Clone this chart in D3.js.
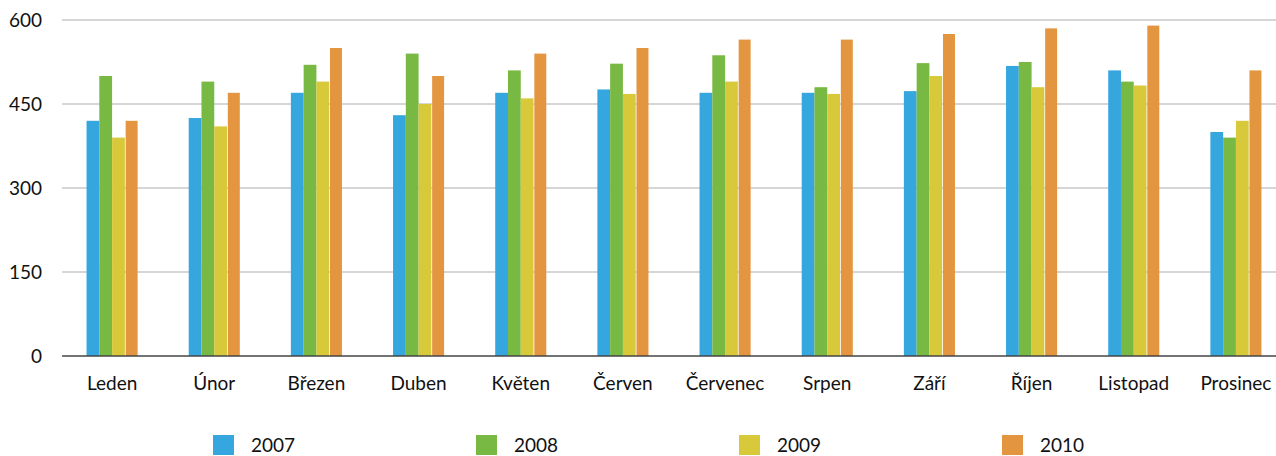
<!DOCTYPE html>
<html>
<head>
<meta charset="utf-8">
<script src="https://cdn.jsdelivr.net/npm/d3@7"></script>
<style>
  body { margin: 0; background: #fff; }
  svg text { font-family: Lato, "Open Sans", sans-serif; fill: #111; }
</style>
</head>
<body>
<svg id="chart" width="1276" height="456"></svg>
<script>
const months = ['Leden', 'Únor', 'Březen', 'Duben', 'Květen', 'Červen',
                'Červenec', 'Srpen', 'Září', 'Říjen', 'Listopad', 'Prosinec'];
const years = ['2007', '2008', '2009', '2010'];
const yTicks = [0, 150, 300, 450, 600];

const v2007 = [420, 425, 470, 430, 470, 476, 470, 470, 473, 518, 510, 400];
const v2008 = [500, 490, 520, 540, 510, 522, 537, 480, 523, 525, 490, 390];
const v2009 = [390, 410, 490, 450, 460, 468, 490, 468, 500, 480, 483, 420];
const v2010 = [420, 470, 550, 500, 540, 550, 565, 565, 575, 585, 590, 510];
const colors = ['#36a7de', '#78b944', '#d8c93b', '#e4953f'];

const series = [v2007, v2008, v2009, v2010];

const svg = d3.select('#chart');
const W = 1276;
const plotLeft = 62;

// the band range runs a bit past the right edge, like the original
const x = d3.scaleBand().domain(months).range([61, 1287]).paddingInner(0.5).paddingOuter(0.25);
const xs = d3.scaleBand().domain(years).range([0, x.bandwidth()]);
const y = d3.scaleLinear().domain([0, 600]).range([356, 20]);

// grid
svg.append('g')
    .selectAll('line')
    .data(yTicks.filter(d => d > 0))
    .enter()
    .append('line')
    .attr('x1', plotLeft)
    .attr('x2', W)
    .attr('y1', d => y(d))
    .attr('y2', d => y(d))
    .attr('stroke', '#c8c8c8')
    .attr('stroke-width', 1.5);

// y labels
svg.append('g')
    .selectAll('text')
    .data(yTicks)
    .enter()
    .append('text')
    .attr('x', 42)
    .attr('y', d => y(d) + 6.5)
    .attr('text-anchor', 'end')
    .attr('font-size', 19)
    .text(d => d);

// bars
const groups = svg.append('g')
    .selectAll('g')
    .data(months)
    .enter()
    .append('g')
    .attr('transform', d => `translate(${x(d)},0)`);

groups.selectAll('rect')
    .data((m, i) => years.map((yr, j) => ({ yr, v: series[j][i], c: colors[j] })))
    .enter()
    .append('rect')
    .attr('x', d => d.yr === '2010' ? xs(d.yr) + 0.8 : xs(d.yr))
    .attr('width', d => d.yr === '2010' ? xs.bandwidth() - 0.8 : xs.bandwidth())
    .attr('y', d => y(d.v))
    .attr('height', d => y(0) - y(d.v))
    .attr('fill', d => d.c);

// baseline
svg.append('line')
    .attr('x1', plotLeft)
    .attr('x2', W)
    .attr('y1', y(0))
    .attr('y2', y(0))
    .attr('stroke', '#444')
    .attr('stroke-width', 1.5);

// x labels
svg.append('g')
    .selectAll('text')
    .data(months)
    .enter()
    .append('text')
    .attr('x', d => x(d) + x.bandwidth() / 2)
    .attr('y', 390)
    .attr('text-anchor', 'middle')
    .attr('font-size', 19)
    .text(d => d);

// legend
const legendX = [213, 476, 739, 1002];
const legend = svg.append('g')
    .selectAll('g')
    .data(years)
    .enter()
    .append('g')
    .attr('transform', (d, i) => `translate(${legendX[i]},435)`);

legend.append('rect')
    .attr('width', 21)
    .attr('height', 20)
    .attr('fill', (d, i) => colors[i]);

legend.append('text')
    .attr('x', 38)
    .attr('y', 17)
    .attr('font-size', 19)
    .text(d => d);
</script>
</body>
</html>
